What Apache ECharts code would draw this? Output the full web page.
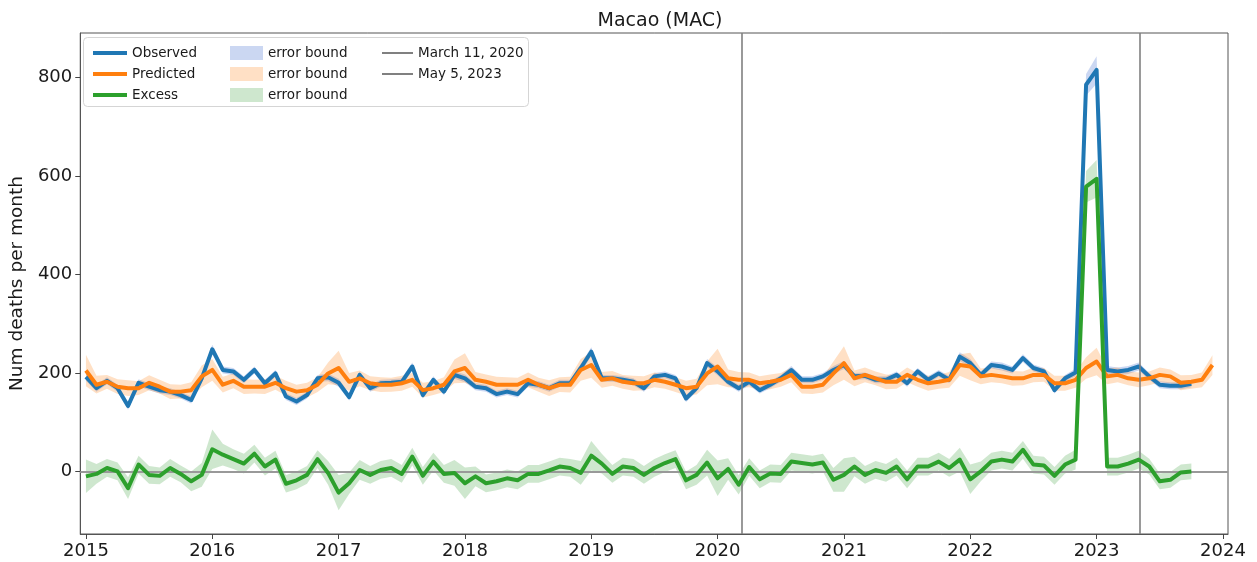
<!DOCTYPE html>
<html><head><meta charset="utf-8">
<script src="https://cdn.jsdelivr.net/npm/echarts@6/dist/echarts.min.js"></script>
<style>html,body{margin:0;padding:0;background:#fff}#c{width:1257px;height:562px}</style>
</head><body><div id="c"></div><script>
// ---- data (monthly, starting January 2015) ----
const startYear = 2015;
const observed = [
 192,169,184,169,133,180,172,165,162,155,145,189,
 248,206,203,186,206,179,199,152,142,155,189,191,
 180,151,196,169,179,180,182,213,155,186,162,196,
 189,172,169,157,162,157,179,176,169,179,179,210,
 243,189,189,186,182,169,193,196,189,148,169,220,
 203,182,169,182,165,176,189,206,186,186,193,206,
 216,193,194,186,186,196,179,203,186,199,186,233,
 220,196,216,213,206,230,210,203,165,189,201,785,
 815,206,203,206,213,193,176,174,174,178
];
const observedErr = [
 8,7,7,7,8,7,7,7,7,7,7,8,
 9,7,7,7,7,7,7,7,7,7,7,8,
 8,7,7,7,7,7,7,8,7,7,7,8,
 8,7,7,7,7,7,7,7,7,7,7,8,
 9,7,7,7,7,7,7,7,7,7,7,8,
 8,7,7,7,7,7,7,8,7,7,7,8,
 8,7,7,7,7,7,7,7,7,7,7,9,
 8,7,7,8,7,8,7,7,7,7,8,22,
 28,8,8,8,8,7,7,7,7,7
];
const predicted = [
 205,176,182,172,169,169,180,172,162,162,165,193,
 206,176,184,172,172,172,180,169,162,165,176,199,
 210,182,189,179,176,176,179,186,165,169,176,203,
 210,186,182,176,176,176,186,176,169,176,176,206,
 216,186,189,182,179,179,186,182,176,169,172,199,
 213,189,186,186,179,182,186,196,172,172,176,199,
 220,189,196,189,182,182,196,186,179,182,186,216,
 213,193,196,193,189,189,196,196,179,179,186,210,
 223,193,196,189,186,189,196,193,180,182,186,216
];
const predictedErr = [
 32,18,14,15,16,14,15,14,15,14,16,22,
 22,16,15,15,14,15,14,15,14,15,15,22,
 35,18,16,14,15,14,15,14,15,14,15,24,
 30,16,15,16,15,14,15,14,16,15,16,22,
 26,16,15,14,15,14,15,14,15,15,16,24,
 36,18,16,15,14,15,14,15,14,15,16,24,
 34,16,15,14,15,14,15,14,15,14,16,22,
 28,16,15,14,15,14,15,14,15,15,16,22,
 28,16,15,14,15,14,15,14,15,14,15,20
];
const excess = [
 -10,-5,7,0,-34,14,-7,-9,7,-5,-20,-7,
 45,34,25,16,36,10,24,-25,-18,-7,25,-3,
 -43,-24,3,-7,3,7,-5,30,-9,20,-5,-3,
 -24,-10,-24,-20,-14,-18,-5,-5,2,10,7,-3,
 32,16,-5,10,7,-7,7,17,25,-18,-7,18,
 -14,5,-27,9,-16,-4,-5,20,17,14,18,-17,
 -7,10,-7,3,-3,10,-16,10,10,20,7,24,
 -16,0,20,24,20,44,14,12,-9,14,24,578,
 594,10,10,16,24,10,-20,-17,-2,0
];
const excessErr = [
 34,20,18,18,22,18,18,17,18,17,20,24,
 40,22,20,20,18,18,18,18,18,18,18,24,
 36,22,20,18,18,18,18,18,18,18,18,26,
 32,20,18,18,18,18,18,18,18,18,18,24,
 30,20,18,18,18,18,18,18,18,18,20,26,
 36,22,20,18,18,18,18,18,18,18,18,24,
 34,20,18,18,18,18,18,18,18,18,18,24,
 30,20,18,18,18,18,18,18,18,18,20,32,
 38,18,18,18,18,16,16,16,16,16
];
const xTicks = [2015,2016,2017,2018,2019,2020,2021,2022,2023,2024];
const yTicks = [0,200,400,600,800];
const eventNames = ['March 11, 2020','May 5, 2023'];
const eventDates = ['2020-03-11','2023-05-05'];

// ---- helpers ----
function monthX(i){ return startYear + i/12; }
function dateX(s){
  const d = Date.parse(s+'T00:00:00Z'); const y = +s.slice(0,4);
  const a = Date.UTC(y,0,1), b = Date.UTC(y+1,0,1);
  return y + (d-a)/(b-a);
}
const FONT = 'DejaVu Sans';
const C_OBS = '#1f77b4', C_PRED = '#ff7f0e', C_EXC = '#2ca02c';
const B_OBS = 'rgba(70,110,210,0.28)', B_PRED = 'rgba(255,140,40,0.27)', B_EXC = 'rgba(60,160,60,0.25)';
const C_EVT = '#808080';

function bandSeries(name, vals, errs, color){
  const data = vals.map((v,i)=>[monthX(i), v-errs[i], v+errs[i]]);
  return {name, type:'custom', silent:true, z:1, itemStyle:{color}, data,
    encode:{x:0, y:[1,2]},
    renderItem:(params, api)=>{
      if(params.dataIndex !== 0) return null;
      const up = data.map(d=>api.coord([d[0], d[2]]));
      const lo = data.map(d=>api.coord([d[0], d[1]])).reverse();
      return {type:'polygon', shape:{points: up.concat(lo)}, style:{fill: color}};
    }};
}
function mainLine(name, vals, color, z){
  return {name, type:'line', symbol:'none', silent:true, z,
    itemStyle:{color}, lineStyle:{color, width:4, join:'round'},
    data: vals.map((v,i)=>[monthX(i), v])};
}
function eventLine(name, date){
  return {name, type:'line', data:[], symbol:'none', z:6,
    itemStyle:{color:C_EVT}, lineStyle:{color:C_EVT},
    markLine:{symbol:'none', silent:true, label:{show:false},
      lineStyle:{color:C_EVT, width:1.6, type:'solid'},
      data:[{xAxis: dateX(date)}]}};
}

const series = [
  bandSeries('Observed error bound', observed, observedErr, B_OBS),
  bandSeries('Predicted error bound', predicted, predictedErr, B_PRED),
  bandSeries('Excess error bound', excess, excessErr, B_EXC),
  {name:'zero', type:'line', data:[], z:2,
   markLine:{symbol:'none', silent:true, label:{show:false},
     lineStyle:{color:'#999', width:2, type:'solid'}, data:[{yAxis:0}]}},
  mainLine('Observed', observed, C_OBS, 3),
  mainLine('Predicted', predicted, C_PRED, 4),
  mainLine('Excess', excess, C_EXC, 5),
  eventLine(eventNames[0], eventDates[0]),
  eventLine(eventNames[1], eventDates[1])
];

const legendText = {fontFamily: FONT, fontSize: 13.5, color:'#1a1a1a', lineHeight:16};
const chart = echarts.init(document.getElementById('c'), null, {renderer:'canvas'});
chart.setOption({
  animation:false,
  backgroundColor:'#fff',
  title:{text:'Macao (MAC)', left:655, textAlign:'center', top:7,
    textStyle:{fontFamily:FONT, fontSize:19, fontWeight:'normal', color:'#1a1a1a'}},
  grid:{left:79, right:29, top:33, bottom:28, show:true, borderColor:'#555', borderWidth:1, backgroundColor:'transparent'},
  graphic:[{type:'rect', left:83, top:37, z:3,
    shape:{width:445, height:69, r:4},
    style:{fill:'rgba(255,255,255,0.85)', stroke:'#d5d5d5', lineWidth:1}}],
  legend:[
    {left:88, top:40, orient:'vertical', itemGap:5, itemWidth:34, itemHeight:4, icon:'rect', selectedMode:false, z:5,
     textStyle:legendText,
     data:[{name:'Observed', itemStyle:{color:C_OBS}},{name:'Predicted', itemStyle:{color:C_PRED}},{name:'Excess', itemStyle:{color:C_EXC}}]},
    {left:225, top:40, orient:'vertical', itemGap:5, itemWidth:33, itemHeight:14, icon:'rect', selectedMode:false, z:5,
     textStyle:legendText, formatter:()=> 'error bound',
     data:[{name:'Observed error bound', itemStyle:{color:B_OBS}},{name:'Predicted error bound', itemStyle:{color:B_PRED}},{name:'Excess error bound', itemStyle:{color:B_EXC}}]},
    {left:377, top:40, orient:'vertical', itemGap:5, itemWidth:31, itemHeight:2, icon:'rect', selectedMode:false, z:5,
     textStyle:legendText,
     data:[{name:eventNames[0], itemStyle:{color:C_EVT}},{name:eventNames[1], itemStyle:{color:C_EVT}}]}
  ],
  xAxis:{type:'value', min:2014.955, max:2024.04,
    axisLine:{show:true, onZero:false, lineStyle:{color:'#555'}},
    axisTick:{show:true, length:5, lineStyle:{color:'#444'}, customValues:xTicks},
    axisLabel:{fontFamily:FONT, fontSize:18, color:'#1a1a1a', margin:8, customValues:xTicks, formatter:v=>String(Math.round(v))},
    splitLine:{show:false}},
  yAxis:{type:'value', min:-127, max:890,
    name:'Num deaths per month', nameLocation:'middle', nameGap:44,
    nameTextStyle:{fontFamily:FONT, fontSize:18.5, color:'#1a1a1a'},
    axisLine:{show:true, onZero:false, lineStyle:{color:'#555'}},
    axisTick:{show:true, length:5, lineStyle:{color:'#444'}, customValues:yTicks},
    axisLabel:{fontFamily:FONT, fontSize:18, color:'#1a1a1a', margin:8, customValues:yTicks},
    splitLine:{show:false}},
  series
});
</script></body></html>
